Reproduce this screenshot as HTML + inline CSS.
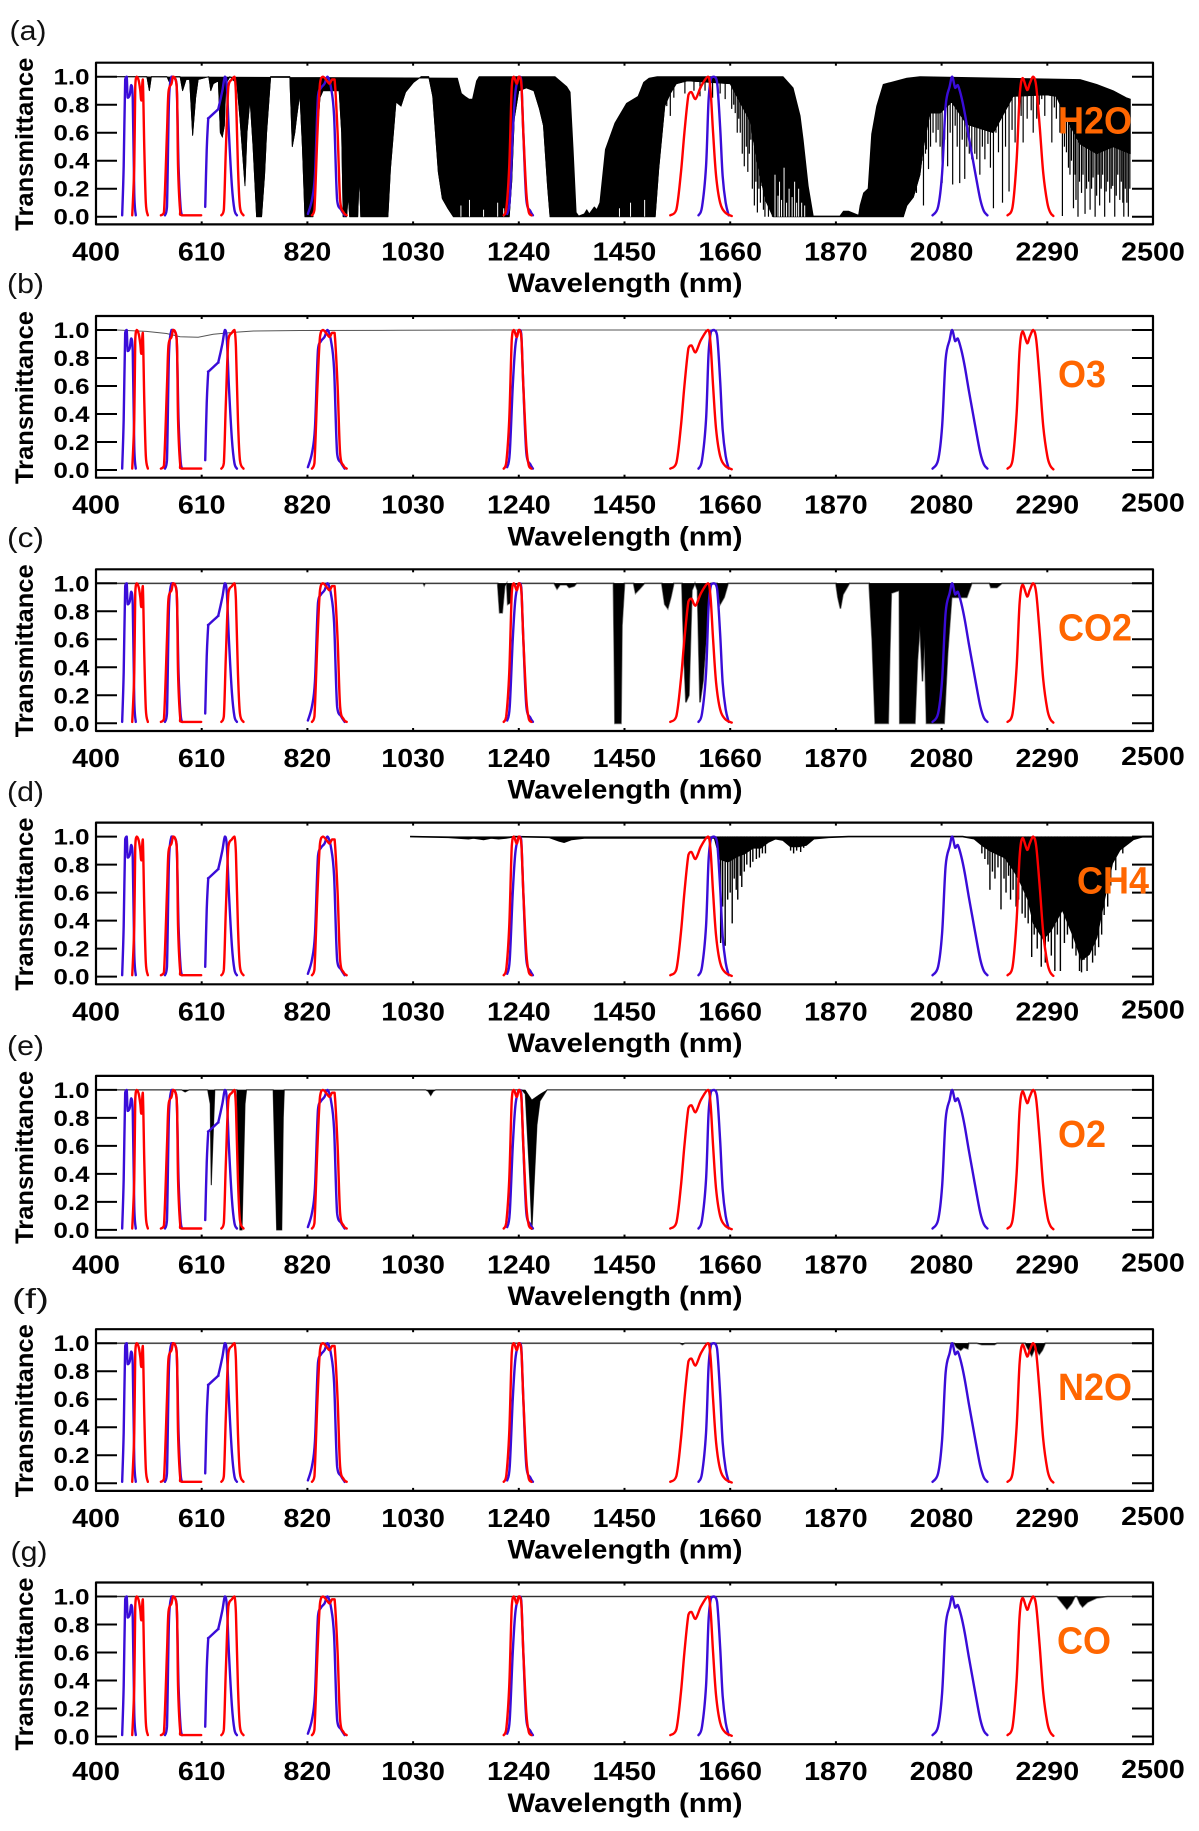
<!DOCTYPE html>
<html lang="en">
<head>
<meta charset="utf-8">
<title>Atmospheric gas transmittance and filter bands</title>
<style>
html,body{margin:0;padding:0;background:#fff;width:1199px;height:1831px;overflow:hidden}
svg{display:block}
text{font-family:"Liberation Sans",Arial,sans-serif}
</style>
</head>
<body>
<svg id="figure" xmlns="http://www.w3.org/2000/svg" width="1199" height="1831" viewBox="0 0 1199 1831"></svg>
<script>
const wavelengthTicks = [400,610,820,1030,1240,1450,1660,1870,2080,2290,2500];
const transmittanceTicks = [0,0.2,0.4,0.6,0.8,1];
const panelLetters = ['(a)','(b)','(c)','(d)','(e)','(f)','(g)'];
const gasNames = ['H2O','O3','CO2','CH4','O2','N2O','CO'];

/* filter response curves */
const blue1W = [452,455,458,461,463,467,470,473,476,479];
const blue1T = [0.01,0.36,0.98,1,0.85,0.87,0.94,0.85,0.17,0.01];
const blue2W = [537,541,545,550,553,560,564,568,571];
const blue2T = [0.01,0.07,0.83,1,1,0.95,0.36,0.07,0.01];
const blue3W = [617,620,623,624,642,643,651,656,660,664,670,675,680];
const blue3T = [0.07,0.48,0.7,0.705,0.765,0.77,0.9,1,0.93,0.6,0.22,0.05,0.01];
const blue4W = [821,829,835,841,847,854,860,867,873,879,887,894];
const blue4T = [0.02,0.12,0.3,0.86,0.92,0.95,1,0.92,0.72,0.12,0.05,0.01];
const blue5W = [1217,1222,1228,1233,1238,1242,1245,1249,1255,1263,1268];
const blue5T = [0.02,0.12,0.6,0.88,0.98,1,0.97,0.6,0.12,0.04,0.01];
const blue6W = [1597,1604,1612,1617,1622,1628,1634,1640,1645,1651,1657];
const blue6T = [0.01,0.07,0.36,0.83,0.99,1,0.96,0.64,0.29,0.1,0.01];
const blue7W = [2062,2073,2081,2088,2096,2101,2107,2112,2119,2126,2134,2141,2149,2157,2164,2171];
const blue7T = [0.01,0.07,0.31,0.79,0.93,1,0.92,0.94,0.86,0.74,0.57,0.43,0.27,0.12,0.04,0.01];
const red1W = [472,476,478,481,485,488,490,493,496,499,503];
const red1T = [0.01,0.36,0.93,1,0.97,0.9,0.83,0.98,0.48,0.1,0.01];
const red2W = [529,535,541,544,550,553,557,561,563,567,571,609];
const red2T = [0.01,0.03,0.6,0.89,0.95,1,0.99,0.88,0.36,0.05,0.01,0.01];
const red3W = [649,654,658,663,670,675,678,682,686,693];
const red3T = [0.01,0.05,0.48,0.93,0.98,1,0.88,0.36,0.07,0.01];
const red4W = [829,834,840,845,851,859,864,869,874,880,885,892,898];
const red4T = [0.01,0.05,0.6,0.95,1,0.97,0.95,0.98,0.98,0.6,0.12,0.03,0.01];
const red5W = [1210,1215,1221,1226,1230,1236,1240,1245,1249,1255,1260,1265];
const red5T = [0.01,0.05,0.36,0.93,1,0.95,1,0.95,0.6,0.17,0.03,0.01];
const red6W = [1541,1553,1562,1569,1577,1583,1591,1602,1616,1621,1626,1632,1640,1650,1663];
const red6T = [0.01,0.05,0.31,0.6,0.87,0.89,0.84,0.93,1,0.9,0.6,0.29,0.1,0.03,0.005];
const red7W = [2211,2221,2229,2235,2241,2250,2255,2262,2268,2275,2282,2290,2296,2302];
const red7T = [0.01,0.07,0.4,0.86,0.99,0.905,0.95,1,0.93,0.64,0.31,0.1,0.03,0.005];

/* H2O spectrum */
const h2oWavelengths = [400,501,506,510,541,546,552,567,572,579,
 586,592,598,603,624,628,633,643,647,651,
 655,658,666,680,686,696,700,706,712,719,
 729,735,739,747,785,790,795,799,805,810,
 815,831,838,845,851,883,888,891,898,901,
 904,920,923,926,980,985,991,996,1006,1015,
 1031,1046,1061,1069,1080,1088,1099,1110,1221,1226,
 1231,1240,1255,1270,1281,1289,1297,1302,1511,1518,
 1530,1541,1553,1575,1660,1682,1700,1712,1730,1745,
 2004,2011,2024,2037,2044,2057,2077,2100,2130,2183,
 2222,2289,2308,2328,2355,2388,2421,2455];
const h2oLower = [1,1,.9,1,1,.96,1,1,.9,.98,
 .98,.58,.85,.98,1,.9,.95,.97,.6,.57,
 .65,.95,1,.95,.7,.22,.6,.84,.5,0,
 0,.3,.6,1,1,.5,.6,.72,.88,.5,
 0,0,.5,.85,.9,.9,.6,0,0,.15,
 0,0,.3,0,0,.34,.6,.82,.79,.89,
 .96,1,1,.86,.32,.13,.06,0,0,.25,
 .7,.9,.92,.9,.77,.65,.22,0,0,.34,
 .79,.88,.95,.97,.95,.8,.68,.42,.12,0,
 0,.08,.14,.3,.5,.74,.74,.82,.66,.6,
 .86,.87,.86,.7,.52,.45,.5,.45];
const h2oUpperWavelengths = [400,1118,1126,1133,1141,1148,1156,1161,1312,1335,
 1342,1348,1354,1359,1370,1375,1380,1390,1395,1401,
 1412,1431,1454,1477,1488,1499,1515,1765,1785,1799,
 1805,1815,1825,1878,1885,1895,1915,1918,1925,1934,
 1941,1951,1964,2011,2037,2355,2388,2421,2447,2455];
const h2oUpper = [1,.99,.88,.86,.84,.84,.97,1,1,.93,
 .89,.48,.03,.005,.02,.05,.02,.07,.05,.1,
 .48,.67,.81,.86,.96,.99,1,1,.92,.72,
 .55,.22,.005,.005,.04,.04,.01,.08,.17,.2,
 .59,.79,.945,.99,1,.98,.945,.9,.85,.84];
const h2oLineWavelengths = [1534,1541,1548,1570,1588,1600,1610,1625,1640,1650,
 1663,1667,1670,1674,1677,1680,1684,1688,1692,1695,1698,1701,1704,1708,1711,1714,1717,1720,1723,1726,1729,1733,1736,1741,1744,
 2030,2036,2041,2044,2048,2050,2054,2058,2063,2069,2073,2077,2081,2086,2092,2097,2102,2107,2111,2116,
 2121,2126,2130,2135,2140,2146,2150,2156,2161,2166,2172,2177,2183,2188,2193,2201,2207,2214,2220,2226,
 2233,2238,2242,2250,2258,2262,2269,2274,2279,2285,2292,2299,2304,2308,2315,2320,2324,2328,2332,2335,
 2338,2342,2345,2347,2351,2354,2358,2361,2365,2368,2372,2375,2378,2381,2385,2388,2391,2394,2397,2400,
 2404,2407,2410,2414,2417,2420,2424,2427,2430,2434,2437,2440,2442,2445,2448,2451,2454];
const h2oLineDepths = [.79,.72,.85,.88,.9,.86,.9,.85,.88,.84,
 .77,.8,.74,.6,.7,.6,.45,.36,.5,.32,.45,.55,.2,.08,.25,.03,.2,.1,.22,.05,0,.1,0,.05,0,
 .17,.3,.4,.08,.45,.48,.34,.5,.6,.53,.62,.5,.24,.55,.36,.6,.23,.65,.5,.24,
 .55,.27,.5,.45,.41,.45,.41,.3,.5,.41,.52,.35,.06,.6,.46,.1,.5,.18,.62,.53,
 .66,.72,.53,.7,.76,.6,.7,.8,.84,.72,.89,.53,.78,.7,.6,.005,.5,.46,.35,.3,
 .4,.06,.3,.12,0,.25,.17,.3,.02,.2,.25,.05,.2,.28,0,.15,.3,.08,.2,.3,
 0,.18,.25,.1,.2,.22,0,.15,.3,.12,.25,.1,0,.2,.1,0,.2];
const h2oGapWavelengths = [1125,1142,1170,1198,1210,1440,1462,1490,1749,1755,1758,1762,1767,1772,1777,1783,1788,1792,1796,1802,1808];
const h2oGapTops = [.08,.12,.05,.1,.06,.06,.1,.12,.3,.15,.25,.12,.35,.1,.2,.14,.25,.1,.2,.1,.08];

/* other gas spectra */
const o3Wavelengths = [400,441,500,540,567,603,633,673,713,805,1000,1200,2500];
const o3Lower = [1,1,.99,.975,.952,.948,.97,.983,.993,.996,.998,1,1];
const co2Wavelengths = [400,1050,1052,1054,1198,1202,1207,1212,1216,1218,
 1223,1226,1240,1310,1316,1322,1335,1340,1350,1355,
 1428,1430,1431,1443,1445,1450,1468,1472,1480,1490,1524,
 1530,1536,1542,1548,1564,1568,1572,1578,1584,1590,
 1595,1600,1606,1612,1618,1622,1634,1640,1648,1656,
 1870,1874,1879,1884,1897,1936,1942,1948,1974,1977,
 1980,1996,1997,2027,2032,2037,2042,2046,2050,2085,
 2092,2100,2130,2140,2175,2178,2190,2200,2500];
const co2Lower = [1,1,.985,1,1,.79,.79,.98,1,.85,
 .86,.98,1,1,.96,.99,.99,.97,.98,1,
 1,.4,0,0,.7,1,1,.93,.96,1,1,
 .85,.82,.9,1,1,.5,.15,.2,.95,1,
 .95,.15,.3,.6,.9,1,1,.85,.9,1,
 1,.9,.82,.92,1,1,.6,0,0,.5,
 .93,.95,0,0,.45,.7,.3,.6,0,0,
 .5,.9,.9,1,1,.97,.97,1,1];
const ch4Wavelengths = [1024,1100,1140,1150,1170,1185,1200,1215,1230,1300,
 1320,1330,1345,1370,1450,1629,1640,1655,1674,1689,
 1705,1720,1735,1750,1765,1780,1796,1811,1826,1856,
 1895,2122,2145,2160,2176,2206,2225,2236,2252,2263,
 2282,2297,2320,2343,2358,2373,2388,2403,2419,2434,
 2461,2480,2500];
const ch4Lower = [1,.995,.985,.99,.98,.99,.985,.99,1,.995,
 .97,.96,.98,.99,.99,.99,.84,.82,.86,.88,
 .92,.92,.96,.985,.975,.93,.93,.94,.985,.995,
 1,1,.985,.94,.9,.85,.75,.68,.55,.38,
 .27,.33,.48,.28,.12,.16,.28,.55,.81,.905,
 .98,1,1];
const ch4LineWavelengths = [1641,1645,1650,1655,1660,1664,1668,1672,1675,1680,1683,1688,1693,1700,1705,1712,1718,1724,1730,1780,1786,1792,1800,1806,
 2160,2166,2172,2176,2181,2186,2192,2198,2204,2208,2213,2217,2222,2228,2233,2240,2246,2252,2259,2264,2270,2278,2286,2292,2298,2305,2310,2316,2324,2330,2335,2340,2347,2354,2358,2363,2369,2375,2380,2385,2392,2398,2403,2410,2416,2426,2440];
const ch4LineDepths = [.24,.5,.22,.55,.6,.38,.7,.62,.55,.72,.64,.75,.8,.78,.82,.84,.85,.88,.88,.9,.88,.9,.89,.92,
 .88,.84,.8,.62,.75,.7,.78,.48,.7,.6,.72,.55,.62,.5,.55,.45,.42,.38,.14,.3,.2,.07,.1,.25,.15,.04,.3,.04,.24,.3,.36,.2,.15,.04,.03,.12,.04,.18,.1,.15,.21,.3,.44,.5,.65,.76,.88];
const o2Wavelengths = [400,570,577,585,622,627,629,634,636,680,
 686,690,696,699,752,759,769,772,774,1055,
 1060,1065,1070,1075,1246,1253,1262,1266,1270,1276,
 1282,1296,2500];
const o2Lower = [1,1,.985,1,1,.9,.32,.8,1,1,
 0,0,.9,1,1,0,0,.8,1,1,
 .99,.96,.99,1,1,.97,.35,0,.3,.75,
 .92,1,1];
const o2UpperWavelengths = [400,1253,1266,1282,1296,2500];
const o2Upper = [1,1,.93,.97,1,1];
const n2oWavelengths = [400,1560,1565,1570,2105,2110,2118,2124,2132,2134,2150,2160,2185,2190,2246,2250,2259,2266,2274,2280,2286,2500];
const n2oLower = [1,1,.99,1,1,.97,.95,.97,.96,1,1,.99,.99,1,1,.97,.91,.97,.92,.95,1,1];
const coWavelengths = [400,2309,2318,2329,2338,2345,2349,2355,2360,2370,2388,2410,2500];
const coLower = [1,1,.96,.91,.95,1,1,.95,.926,.96,.99,1,1];

/* layout */
const SVG_NS = 'http://www.w3.org/2000/svg';
const figure = document.getElementById('figure');
const PLOT_LEFT = 96, PLOT_RIGHT = 1153, PANEL_H = 161.7, PANEL_STEP = 253.3, FIRST_TOP = 62.7;
const LETTER_X = [9.5,7,7,7,7,12,10.5];
const LETTER_Y = [40,293,547,801,1055,1308,1561];
const GAS_X = [1058,1058,1058,1077,1058,1058,1057];

function xScale(w){ return PLOT_LEFT + (w - wavelengthTicks[0]) / (wavelengthTicks[wavelengthTicks.length-1] - wavelengthTicks[0]) * (PLOT_RIGHT - PLOT_LEFT); }
function yScale(t, top){ return top + 154 - t * 140; }
function make(tag, attrs, parent){
  const el = document.createElementNS(SVG_NS, tag);
  for (const k in attrs) el.setAttribute(k, attrs[k]);
  parent.appendChild(el);
  return el;
}
function label(str, attrs, parent){
  const el = make('text', attrs, parent);
  el.textContent = str;
  return el;
}
function interp(ws, ts, w){
  for (let i = 1; i < ws.length; i++){
    if (w <= ws[i]) return ts[i-1] + (ts[i]-ts[i-1]) * (w-ws[i-1]) / (ws[i]-ws[i-1]);
  }
  return ts[ts.length-1];
}
function pts(ws, ts, top){
  return ws.map((w,i) => xScale(w).toFixed(2) + ',' + yScale(ts[i], top).toFixed(2)).join(' ');
}
function clamp(v, a, b){ return Math.min(Math.max(v, Math.min(a,b)), Math.max(a,b)); }
function smoothPath(ws, ts, top){
  const p = ws.map((w,i) => [xScale(w), yScale(ts[i], top)]);
  let d = 'M' + p[0][0].toFixed(2) + ' ' + p[0][1].toFixed(2);
  for (let i = 0; i < p.length-1; i++){
    const a = p[Math.max(i-1,0)], b = p[i], c = p[i+1], e = p[Math.min(i+2,p.length-1)];
    const c1x = b[0] + (c[0]-a[0])/6, c1y = clamp(b[1] + (c[1]-a[1])/6, b[1], c[1]);
    const c2x = c[0] - (e[0]-b[0])/6, c2y = clamp(c[1] - (e[1]-b[1])/6, b[1], c[1]);
    d += 'C' + c1x.toFixed(2) + ' ' + c1y.toFixed(2) + ' ' + c2x.toFixed(2) + ' ' + c2y.toFixed(2) + ' ' + c[0].toFixed(2) + ' ' + c[1].toFixed(2);
  }
  return d;
}

const blueBands = [[blue1W,blue1T],[blue2W,blue2T],[blue3W,blue3T],[blue4W,blue4T],[blue5W,blue5T],[blue6W,blue6T],[blue7W,blue7T]];
const redBands = [[red1W,red1T],[red2W,red2T],[red3W,red3T],[red4W,red4T],[red5W,red5T],[red6W,red6T],[red7W,red7T]];
const spectra = [
  {w:h2oWavelengths, t:h2oLower, uw:h2oUpperWavelengths, ut:h2oUpper, lw:h2oLineWavelengths, lt:h2oLineDepths, gw:h2oGapWavelengths, gt:h2oGapTops, fill:true, base:'#000', baseW:.8, lineW:1.2},
  {w:o3Wavelengths, t:o3Lower, fill:false, base:'#555', baseW:1},
  {w:co2Wavelengths, t:co2Lower, fill:true, base:'#888', baseW:1.8},
  {w:ch4Wavelengths, t:ch4Lower, lw:ch4LineWavelengths, lt:ch4LineDepths, fill:true, base:'#000', baseW:1.6, lineW:1.4},
  {w:o2Wavelengths, t:o2Lower, uw:o2UpperWavelengths, ut:o2Upper, fill:true, base:'#666', baseW:1.2},
  {w:n2oWavelengths, t:n2oLower, fill:true, base:'#888', baseW:1.8},
  {w:coWavelengths, t:coLower, fill:true, base:'#888', baseW:1.8}
];

function drawPanel(i){
  const top = FIRST_TOP + PANEL_STEP * i;
  const bottom = top + PANEL_H;
  const s = spectra[i];
  const g = make('g', {}, figure);
  
  

  const letter = label(panelLetters[i], {x:LETTER_X[i], y:LETTER_Y[i], 'font-size':28, textLength:37, lengthAdjust:'spacingAndGlyphs', fill:'#111'}, g);
  
  

  /* black gas spectrum */
  const specG = make('g', {}, g);
  
  
  const line = make('polyline', {points:pts(s.w, s.t, top), fill:'none', stroke:s.base, 'stroke-width':s.baseW}, specG);
  
  
  if (s.fill){
    const uw = s.uw || [s.w[0], s.w[s.w.length-1]];
    const ut = s.ut || [1,1];
    const rw = uw.slice().reverse(), rt = ut.slice().reverse();
    const area = make('polygon', {points:pts(s.w, s.t, top) + ' ' + pts(rw, rt, top), fill:'#000', stroke:'#000', 'stroke-width':i===0?0.8:0.4, 'stroke-linejoin':'round'}, specG);
    
    
  }
  if (s.gw){
    s.gw.forEach((w,k) => {
      const gap = make('line', {x1:xScale(w), x2:xScale(w), y1:yScale(0, top), y2:yScale(s.gt[k], top), stroke:'#fff', 'stroke-width':1}, specG);
      
      
    });
  }
  if (s.lw){
    s.lw.forEach((w,k) => {
      const upper = s.uw ? interp(s.uw, s.ut, w) : 1;
      const sp = make('line', {x1:xScale(w), x2:xScale(w), y1:yScale(upper, top), y2:yScale(s.lt[k], top), stroke:'#000', 'stroke-width':s.lineW}, specG);
      
      
    });
  }

  /* filter curves */
  blueBands.forEach(b => {
    const c = make('path', {d:smoothPath(b[0], b[1], top), fill:'none', stroke:'#3a0cd8', 'stroke-width':2.4, 'stroke-linejoin':'round', 'stroke-linecap':'round'}, g);
    
    
  });
  redBands.forEach(b => {
    const c = make('path', {d:smoothPath(b[0], b[1], top), fill:'none', stroke:'#ff0000', 'stroke-width':2.4, 'stroke-linejoin':'round', 'stroke-linecap':'round'}, g);
    
    
  });

  /* axes */
  const frame = make('rect', {x:PLOT_LEFT, y:top, width:PLOT_RIGHT-PLOT_LEFT, height:PANEL_H, fill:'none', stroke:'#000', 'stroke-width':2.2, 'stroke-linejoin':'round'}, g);
  
  

  transmittanceTicks.forEach(t => {
    const y = yScale(t, top);
    const l = make('line', {x1:PLOT_LEFT, x2:PLOT_LEFT+21, y1:y, y2:y, stroke:'#000', 'stroke-width':2}, g);
    
    
    const r = make('line', {x1:PLOT_RIGHT-21, x2:PLOT_RIGHT, y1:y, y2:y, stroke:'#000', 'stroke-width':2}, g);
    
    
    const tl = label(t.toFixed(1), {x:89.5, y:y+8, 'font-size':22.5, 'font-weight':'bold', 'text-anchor':'end', textLength:36, lengthAdjust:'spacingAndGlyphs', fill:'#000'}, g);
    
    
  });

  wavelengthTicks.forEach((w, k) => {
    const x = xScale(w);
    if (k > 0 && k < wavelengthTicks.length-1){
      const t1 = make('line', {x1:x, x2:x, y1:top, y2:top+3, stroke:'#000', 'stroke-width':2}, g);
      
      
      const t2 = make('line', {x1:x, x2:x, y1:bottom-3, y2:bottom, stroke:'#000', 'stroke-width':2}, g);
      
      
    }
    const str = String(w);
    const lift = (i > 0 && k === wavelengthTicks.length-1) ? 2 : 0;
    const tl = label(str, {x:x, y:top+197.7-lift, 'font-size':25.5, 'font-weight':'bold', 'text-anchor':'middle', textLength:str.length*15.9, lengthAdjust:'spacingAndGlyphs', fill:'#000'}, g);
    
    
  });

  const xt = label('Wavelength (nm)', {x:625, y:top+229.3, 'font-size':27, 'font-weight':'bold', 'text-anchor':'middle', textLength:235, lengthAdjust:'spacingAndGlyphs', fill:'#000'}, g);
  
  

  const cy = top + 81.5;
  const yt = label('Transmittance', {x:0, y:0, transform:'translate(33 ' + cy + ') rotate(-90)', 'font-size':25, 'font-weight':'bold', 'text-anchor':'middle', textLength:173, lengthAdjust:'spacingAndGlyphs', fill:'#000'}, g);
  
  

  const name = gasNames[i];
  const widthEm = {H2O:74, O3:48, CO2:74, CH4:72, O2:48, N2O:74, CO:54}[name];
  const gl = label(name, {x:GAS_X[i], y:top+71, 'font-size':38, 'font-weight':'bold', textLength:widthEm, lengthAdjust:'spacingAndGlyphs', fill:'#ff6600'}, g);
  
  
}

gasNames.forEach((_, i) => drawPanel(i));
</script>
</body>
</html>
